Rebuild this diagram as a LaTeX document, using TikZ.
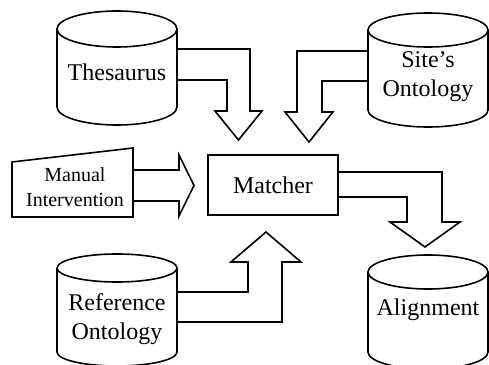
\documentclass[tikz,border=0pt]{standalone}
\usepackage{fontspec}
\setmainfont{Liberation Serif}
\begin{document}
\begin{tikzpicture}[x=0.5pt,y=0.5pt,line width=0.8pt,
  lbl/.style={align=center,font=\fontsize{12}{14.5}\selectfont,inner sep=0pt},
  fatarrow/.style={line width=0.8pt,line join=miter}]
\useasboundingbox (0,0) rectangle (489,365);
% databases
\draw (57,336) -- (57,258) arc (180:360:60 and 18) -- (177,336);
\draw (117,336) ellipse (60 and 18);
\node[lbl] (thes) at (117,293) {Thesaurus};
\draw (368,335) -- (368,255) arc (180:360:60 and 17) -- (488,335);
\draw (428,335) ellipse (60 and 17);
\node[lbl] (site) at (428,288) {Site's\\Ontology};
\draw (57,97) -- (57,13) arc (180:360:60 and 14) -- (177,97);
\draw (117,97) ellipse (60 and 14);
\node[lbl] (refo) at (117,46) {Reference\\Ontology};
\draw (368,93) -- (368,13) arc (180:360:60 and 17) -- (488,93);
\draw (428,93) ellipse (60 and 17);
\node[lbl] (align) at (428,55) {Alignment};
% matcher and manual input
\node[draw,lbl,minimum width=65pt,minimum height=30pt] (match) at (273,180) {Matcher};
\draw (12,203) -- (133,217) -- (133,148) -- (12,148) -- cycle;
\node[lbl,font=\fontsize{10}{12.5}\selectfont] (manual) at (75,178) {Manual\\Intervention};
% block arrows
\draw[fatarrow] (177,316) -- (250,316) -- (250,254) -- (262,254) -- (238.5,225) -- (215,254) -- (227,254) -- (227,285) -- (177,285);
\draw[fatarrow] (368,314) -- (297,314) -- (297,253) -- (285,253) -- (309,223) -- (333,253) -- (322,253) -- (322,284) -- (368,284);
\draw[fatarrow] (133,195) -- (179,195) -- (179,210) -- (194,179.5) -- (179,149) -- (179,164) -- (133,164);
\draw[fatarrow] (178,73) -- (248,73) -- (248,103) -- (231,103) -- (266,133) -- (301,103) -- (282,103) -- (282,43) -- (178,43);
\draw[fatarrow] (match.east |- 0,193) -- (442,193) -- (442,143) -- (460,143) -- (425,118) -- (390,143) -- (407,143) -- (407,168) -- (match.east |- 0,168);
\end{tikzpicture}
\end{document}
